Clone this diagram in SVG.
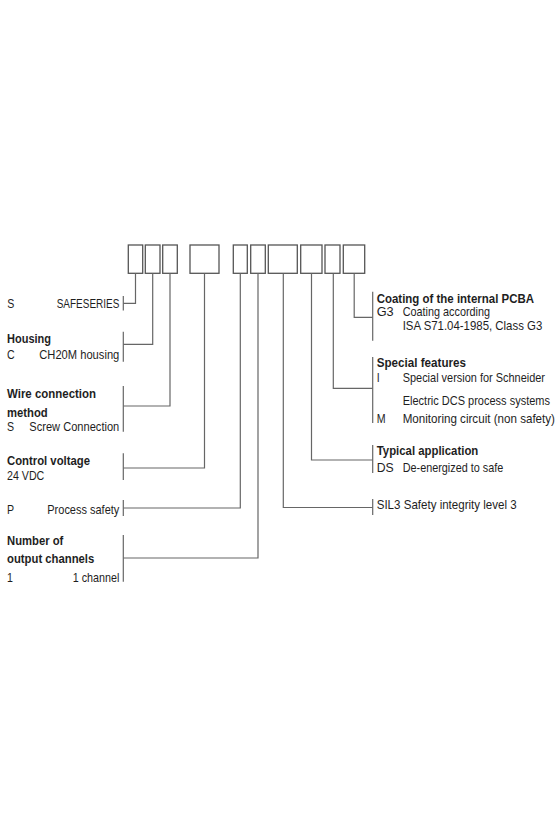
<svg xmlns="http://www.w3.org/2000/svg" width="560" height="840" viewBox="0 0 560 840">
<style>
.box{fill:#fff;stroke:#555;stroke-width:1.3}
.ln{fill:none;stroke:#666;stroke-width:1.2}
text{font-family:"Liberation Sans","DejaVu Sans",sans-serif;font-size:12.5px;fill:#1e1e1e}
.b{font-weight:bold}
</style>
<rect width="560" height="840" fill="#fff"/>
<g id="boxes">
<rect id="box1" class="box" x="128.3" y="245" width="14.4" height="28.3"/>
<rect id="box2" class="box" x="145.3" y="245" width="14.7" height="28.3"/>
<rect id="box3" class="box" x="162.7" y="245" width="14.6" height="28.3"/>
<rect id="box4" class="box" x="190" y="245" width="29" height="28.3"/>
<rect id="box5" class="box" x="233.3" y="245" width="14" height="28.3"/>
<rect id="box6" class="box" x="250.7" y="245" width="14.6" height="28.3"/>
<rect id="box7" class="box" x="268.3" y="245" width="29" height="28.3"/>
<rect id="box8" class="box" x="300.7" y="245" width="21.3" height="28.3"/>
<rect id="box9" class="box" x="325" y="245" width="15" height="28.3"/>
<rect id="box10" class="box" x="343.3" y="245" width="21.4" height="28.3"/>
</g>
<g id="connectors">
<path class="ln" d="M135.5 273.3V303.3H123.3"/>
<path class="ln" d="M152.7 273.3V344.3H123.3"/>
<path class="ln" d="M170 273.3V406H123.3"/>
<path class="ln" d="M204.5 273.3V468H123.3"/>
<path class="ln" d="M240.3 273.3V508H123.3"/>
<path class="ln" d="M258 273.3V558H123.3"/>
<path class="ln" d="M283.3 273.3V507.5H372.7"/>
<path class="ln" d="M311.5 273.3V460H372.7"/>
<path class="ln" d="M333.3 273.3V388.3H372.7"/>
<path class="ln" d="M354.2 273.3V317.3H372.7"/>
<path class="ln" d="M123.3 296V310.5"/>
<path class="ln" d="M123.3 331.7V361.7"/>
<path class="ln" d="M123.3 386V431.7"/>
<path class="ln" d="M123.3 453.3V480"/>
<path class="ln" d="M123.3 500V516"/>
<path class="ln" d="M123.3 535V581.7"/>
<path class="ln" d="M372.7 291.7V340.7"/>
<path class="ln" d="M372.7 357V423"/>
<path class="ln" d="M372.7 445V473"/>
<path class="ln" d="M372.7 499V515"/>
</g>
<g transform="scale(0.85,1)">
<g id="series">
<text x="8.59" y="308">S</text>
<text x="66.71" y="308" textLength="73.65" lengthAdjust="spacingAndGlyphs">SAFESERIES</text>
</g>
<g id="housing">
<text class="b" x="8.24" y="343.3" textLength="51.76" lengthAdjust="spacingAndGlyphs">Housing</text>
<text x="8.24" y="359">C</text>
<text x="46.24" y="359" textLength="94.12" lengthAdjust="spacingAndGlyphs">CH20M housing</text>
</g>
<g id="wire">
<text class="b" x="8.24" y="398.3" textLength="104.71" lengthAdjust="spacingAndGlyphs">Wire connection</text>
<text class="b" x="8.24" y="416.7" textLength="47.88" lengthAdjust="spacingAndGlyphs">method</text>
<text x="8.24" y="431">S</text>
<text x="34.47" y="431" textLength="105.88" lengthAdjust="spacingAndGlyphs">Screw Connection</text>
</g>
<g id="voltage">
<text class="b" x="8.24" y="465" textLength="97.65" lengthAdjust="spacingAndGlyphs">Control voltage</text>
<text x="8.24" y="480" textLength="43.88" lengthAdjust="spacingAndGlyphs">24 VDC</text>
</g>
<g id="process">
<text x="8.24" y="514">P</text>
<text x="55.65" y="514" textLength="84.71" lengthAdjust="spacingAndGlyphs">Process safety</text>
</g>
<g id="channels">
<text class="b" x="8.24" y="545.3" textLength="66.24" lengthAdjust="spacingAndGlyphs">Number of</text>
<text class="b" x="8.24" y="563.3" textLength="102.71" lengthAdjust="spacingAndGlyphs">output channels</text>
<text x="8.24" y="581.7">1</text>
<text x="85.53" y="581.7" textLength="54.82" lengthAdjust="spacingAndGlyphs">1 channel</text>
</g>
<g id="coating">
<text class="b" x="443.18" y="302.7" textLength="185.06" lengthAdjust="spacingAndGlyphs">Coating of the internal PCBA</text>
<text x="443.18" y="316.5" textLength="20" lengthAdjust="spacingAndGlyphs">G3</text>
<text x="473.76" y="316.5" textLength="102.71" lengthAdjust="spacingAndGlyphs">Coating according</text>
<text x="473.76" y="330.5" textLength="164.24" lengthAdjust="spacingAndGlyphs">ISA S71.04-1985, Class G3</text>
</g>
<g id="special">
<text class="b" x="443.18" y="367.3" textLength="105.06" lengthAdjust="spacingAndGlyphs">Special features</text>
<text x="443.18" y="382">I</text>
<text x="473.76" y="382" textLength="167.41" lengthAdjust="spacingAndGlyphs">Special version for Schneider</text>
<text x="473.76" y="405" textLength="173.29" lengthAdjust="spacingAndGlyphs">Electric DCS process systems</text>
<text x="443.18" y="423.3">M</text>
<text x="473.76" y="423.3" textLength="179.18" lengthAdjust="spacingAndGlyphs">Monitoring circuit (non safety)</text>
</g>
<g id="application">
<text class="b" x="443.18" y="455" textLength="119.53" lengthAdjust="spacingAndGlyphs">Typical application</text>
<text x="443.18" y="471.7" textLength="20" lengthAdjust="spacingAndGlyphs">DS</text>
<text x="473.76" y="471.7" textLength="118.35" lengthAdjust="spacingAndGlyphs">De-energized to safe</text>
</g>
<g id="sil">
<text x="443.18" y="509.3" textLength="164.7" lengthAdjust="spacingAndGlyphs">SIL3 Safety integrity level 3</text>
</g>
</g>
</svg>
